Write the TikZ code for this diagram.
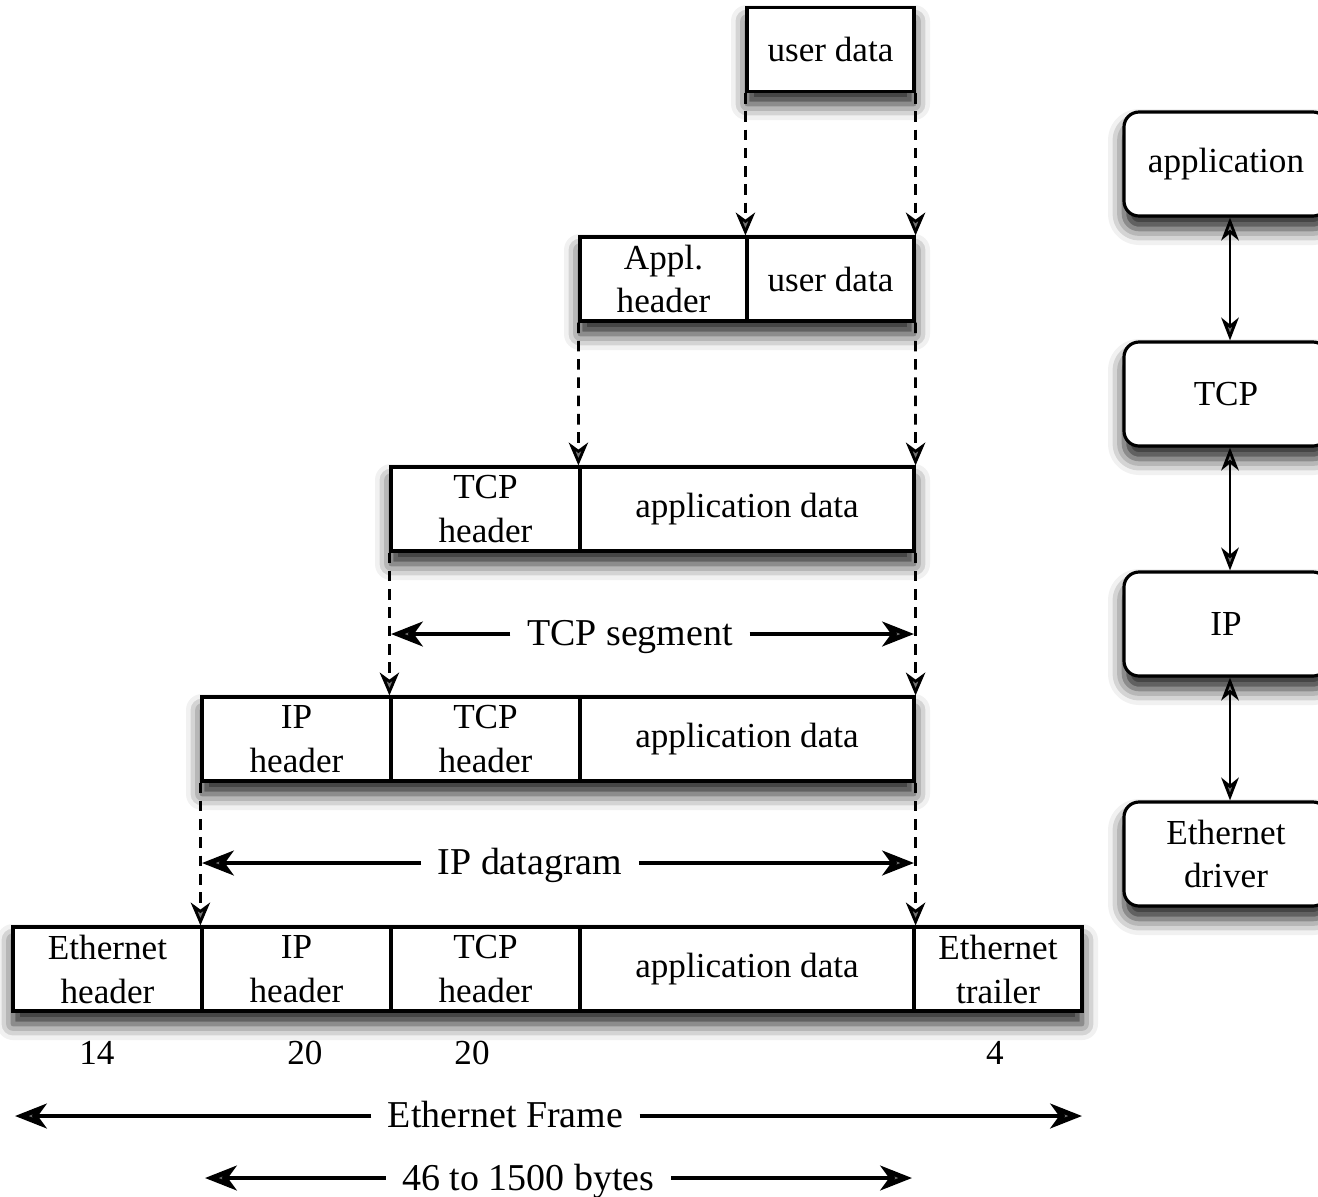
\documentclass[tikz,border=0pt]{standalone}
\usepackage{fontspec}
\setmainfont{Liberation Serif}
\usetikzlibrary{arrows.meta,shadows.blur}

\tikzset{
  cell/.style={draw,line width=0.9pt,fill=white,inner sep=0pt,minimum height=0.84cm,
               align=center,font=\fontsize{10}{12.5}\selectfont},
  dropshade/.style={blur shadow={shadow xshift=0pt,shadow yshift=-1.3mm,
                            shadow blur radius=1.6mm,shadow opacity=90}},
  layerbox/.style={draw,line width=0.9pt,fill=white,rounded corners=0.15cm,inner sep=0pt,
               minimum width=2.04cm,minimum height=1.04cm,align=center,
               font=\fontsize{10}{12.5}\selectfont,dropshade},
  rowshadow/.style={fill=white,dropshade},
  flow/.style={thick,dash pattern=on 3pt off 2.2pt,
               -{Stealth[length=6.5pt,width=5.5pt,inset=2pt]}},
  span/.style={line width=1.4pt,-{Stealth[length=9pt,width=7pt,inset=2.5pt]}},
  spanlabel/.style={font=\fontsize{10.8}{13}\selectfont,inner xsep=0.16cm,
               inner ysep=0pt,anchor=base},
  count/.style={font=\fontsize{10}{12.5}\selectfont,inner sep=0pt},
  updown/.style={thick,{Stealth[length=6.5pt,width=5pt,inset=2pt]}-{Stealth[length=6.5pt,width=5pt,inset=2pt]}}
}

\begin{document}
\begin{tikzpicture}
\useasboundingbox (0,0) rectangle (13.18,-11.97);

% shadows under the rows
\path[rowshadow] (7.47,-0.08) rectangle (9.14,-0.91);
\path[rowshadow] (5.80,-2.37) rectangle (9.14,-3.21);
\path[rowshadow] (3.91,-4.67) rectangle (9.14,-5.51);
\path[rowshadow] (2.02,-6.97) rectangle (9.14,-7.81);
\path[rowshadow] (0.13,-9.27) rectangle (10.82,-10.11);

% encapsulation rows
\node[cell,minimum width=1.67cm] (ud1) at (8.305,-0.495) {user data};

\node[cell,minimum width=1.67cm] (ah2) at (6.635,-2.79) {Appl.\\header};
\node[cell,minimum width=1.67cm] (ud2) at (8.305,-2.79) {user data};

\node[cell,minimum width=1.89cm] (th3) at (4.855,-5.09) {TCP\\header};
\node[cell,minimum width=3.34cm] (ad3) at (7.47,-5.09) {application data};

\node[cell,minimum width=1.89cm] (ih4) at (2.965,-7.39) {IP\\header};
\node[cell,minimum width=1.89cm] (th4) at (4.855,-7.39) {TCP\\header};
\node[cell,minimum width=3.34cm] (ad4) at (7.47,-7.39) {application data};

\node[cell,minimum width=1.89cm] (eh5) at (1.075,-9.69) {Ethernet\\header};
\node[cell,minimum width=1.89cm] (ih5) at (2.965,-9.69) {IP\\header};
\node[cell,minimum width=1.89cm] (th5) at (4.855,-9.69) {TCP\\header};
\node[cell,minimum width=3.34cm] (ad5) at (7.47,-9.69) {application data};
\node[cell,minimum width=1.68cm] (et5) at (9.98,-9.69) {Ethernet\\trailer};

% dashed flow
\draw[flow] (ud1.south west) -- (ud2.north west);
\draw[flow] (ud1.south east) -- (ud2.north east);
\draw[flow] (ah2.south west) -- (ad3.north west);
\draw[flow] (ud2.south east) -- (ad3.north east);
\draw[flow] (th3.south west) -- (th4.north west);
\draw[flow] (ad3.south east) -- (ad4.north east);
\draw[flow] (ih4.south west) -- (ih5.north west);
\draw[flow] (ad4.south east) -- (ad5.north east);

% byte counts
\node[count] (n14) at (0.97,-10.53) {14};
\node[count] (n20a) at (3.05,-10.53) {20};
\node[count] (n20b) at (4.72,-10.53) {20};
\node[count] (n4) at (9.95,-10.53) {4};

% spans
\coordinate (segL) at (3.91,-6.34);
\coordinate (segR) at (9.14,-6.34);
\node[spanlabel] (seg) at (6.30,-6.45) {TCP segment};
\draw[span] (seg.west |- segL) -- (segL);
\draw[span] (seg.east |- segR) -- (segR);

\coordinate (dgL) at (2.02,-8.63);
\coordinate (dgR) at (9.14,-8.63);
\node[spanlabel] (dg) at (5.30,-8.74) {IP datagram};
\draw[span] (dg.west |- dgL) -- (dgL);
\draw[span] (dg.east |- dgR) -- (dgR);

\coordinate (frL) at (0.15,-11.16);
\coordinate (frR) at (10.82,-11.16);
\node[spanlabel] (fr) at (5.055,-11.27) {Ethernet Frame};
\draw[span] (fr.west |- frL) -- (frL);
\draw[span] (fr.east |- frR) -- (frR);

\coordinate (plL) at (2.05,-11.78);
\coordinate (plR) at (9.12,-11.78);
\node[spanlabel] (pl) at (5.285,-11.90) {46 to 1500 bytes};
\draw[span] (pl.west |- plL) -- (plL);
\draw[span] (pl.east |- plR) -- (plR);

% protocol stack
\node[layerbox] (app) at (12.26,-1.64) {application};
\node[layerbox] (tcp) at (12.26,-3.94) {TCP};
\node[layerbox] (ip) at (12.26,-6.24) {IP};
\node[layerbox] (eth) at (12.26,-8.54) {Ethernet\\driver};

\draw[updown] ([xshift=0.4mm]app.south) -- ([xshift=0.4mm]tcp.north);
\draw[updown] ([xshift=0.4mm]tcp.south) -- ([xshift=0.4mm]ip.north);
\draw[updown] ([xshift=0.4mm]ip.south) -- ([xshift=0.4mm]eth.north);
\end{tikzpicture}
\end{document}
